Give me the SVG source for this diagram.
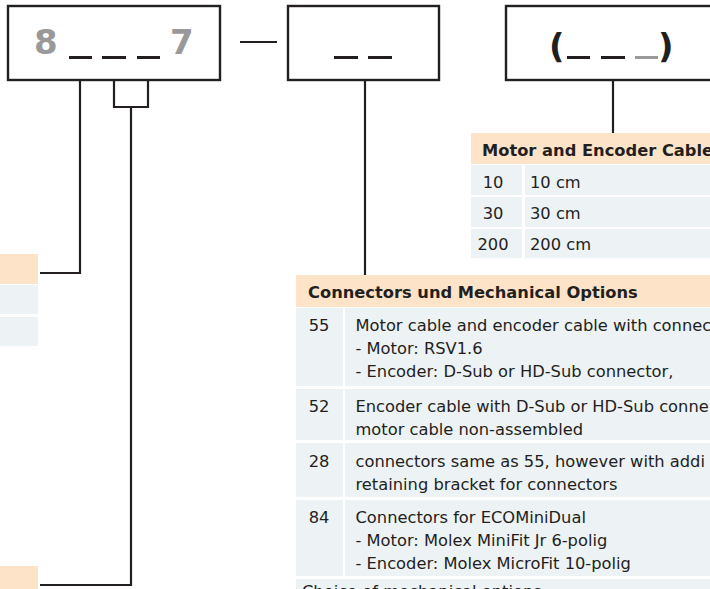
<svg xmlns="http://www.w3.org/2000/svg" width="710" height="589" viewBox="0 0 710 589">
<style>
.box{fill:#fff;stroke:#231f20;stroke-width:2.4}
.ln{fill:none;stroke:#231f20;stroke-width:2.2}
.hd{fill:#fde4c9}
.rw{fill:#edf2f5}
.t{font-family:"DejaVu Sans",Verdana,sans-serif;font-size:16.3px;fill:#231f20}
.b{font-weight:bold}
.c{text-anchor:middle}
.big{font-family:"DejaVu Sans",Verdana,sans-serif;font-size:34px;font-weight:bold}
.dash{fill:#231f20}
</style>
<rect width="710" height="589" fill="#fff"/>
<g id="connectors">
<path class="ln" d="M80,57 V273 H40"/>
<path class="ln" d="M114,57 V107 H148 V57"/>
<path class="ln" d="M131,107 V585 H40"/>
<path class="ln" d="M240,42 H277"/>
<path class="ln" d="M365,80 V275"/>
<path class="ln" d="M613,80 V133"/>
</g>
<g id="box-type">
<rect class="box" x="8" y="6" width="212" height="74"/>
<text class="big" x="34" y="54" fill="#999">8</text>
<text class="big" x="170" y="54" fill="#999">7</text>
<rect class="dash" x="69" y="56" width="23" height="3"/>
<rect class="dash" x="102" y="56" width="24" height="3"/>
<rect class="dash" x="137" y="56" width="23" height="3"/>
</g>
<g id="box-options">
<rect class="box" x="288" y="6" width="151" height="74"/>
<rect class="dash" x="334" y="56" width="24" height="3"/>
<rect class="dash" x="368" y="56" width="24" height="3"/>
</g>
<g id="box-cable">
<rect class="box" x="506" y="6" width="210" height="74"/>
<text class="big" x="549" y="57.5" fill="#231f20">(</text>
<rect class="dash" x="567" y="56" width="23" height="3"/>
<rect class="dash" x="601" y="56" width="24" height="3"/>
<rect x="635" y="56" width="23" height="3" fill="#9a9a9a"/>
<text class="big" x="658" y="57.5" fill="#231f20">)</text>
</g>
<g id="left-table-1">
<rect class="hd" x="0" y="254" width="38" height="30"/>
<rect class="rw" x="0" y="285" width="38" height="29"/>
<rect class="rw" x="0" y="317" width="38" height="29"/>
</g>
<g id="left-table-2">
<rect class="hd" x="0" y="566" width="38" height="23"/>
</g>
<g id="cable-table">
<rect class="hd" x="471" y="133" width="239" height="31"/>
<text class="t b" x="482" y="156">Motor and Encoder Cable</text>
<rect class="rw" x="471" y="165" width="51" height="30"/>
<rect class="rw" x="525" y="165" width="185" height="30"/>
<rect class="rw" x="471" y="197" width="51" height="30"/>
<rect class="rw" x="525" y="197" width="185" height="30"/>
<rect class="rw" x="471" y="229" width="51" height="29"/>
<rect class="rw" x="525" y="229" width="185" height="29"/>
<text class="t c" x="493" y="188">10</text>
<text class="t" x="530" y="188">10 cm</text>
<text class="t c" x="493" y="219">30</text>
<text class="t" x="530" y="219">30 cm</text>
<text class="t c" x="493" y="250">200</text>
<text class="t" x="530" y="250">200 cm</text>
</g>
<g id="options-table">
<rect class="hd" x="296" y="275" width="414" height="32"/>
<text class="t b" x="308" y="298">Connectors und Mechanical Options</text>
<rect class="rw" x="296" y="308" width="47" height="78"/>
<rect class="rw" x="345" y="308" width="365" height="78"/>
<rect class="rw" x="296" y="389" width="47" height="51"/>
<rect class="rw" x="345" y="389" width="365" height="51"/>
<rect class="rw" x="296" y="443" width="47" height="54"/>
<rect class="rw" x="345" y="443" width="365" height="54"/>
<rect class="rw" x="296" y="500" width="47" height="76"/>
<rect class="rw" x="345" y="500" width="365" height="76"/>
<rect class="rw" x="296" y="579" width="414" height="20"/>
<text class="t c" x="319" y="331">55</text>
<text class="t" x="355.5" y="331">Motor cable and encoder cable with connec</text>
<text class="t" x="355.5" y="354">- Motor: RSV1.6</text>
<text class="t" x="355.5" y="377">- Encoder: D-Sub or HD-Sub connector,</text>
<text class="t c" x="319" y="412">52</text>
<text class="t" x="355.5" y="412">Encoder cable with D-Sub or HD-Sub conne</text>
<text class="t" x="355.5" y="435">motor cable non-assembled</text>
<text class="t c" x="319" y="467">28</text>
<text class="t" x="355.5" y="467">connectors same as 55, however with addi</text>
<text class="t" x="355.5" y="490">retaining bracket for connectors</text>
<text class="t c" x="319" y="523">84</text>
<text class="t" x="355.5" y="523">Connectors for ECOMiniDual</text>
<text class="t" x="355.5" y="546">- Motor: Molex MiniFit Jr 6-polig</text>
<text class="t" x="355.5" y="569">- Encoder: Molex MicroFit 10-polig</text>
<text class="t" x="302" y="597">Choice of mechanical options</text>
</g>
</svg>
